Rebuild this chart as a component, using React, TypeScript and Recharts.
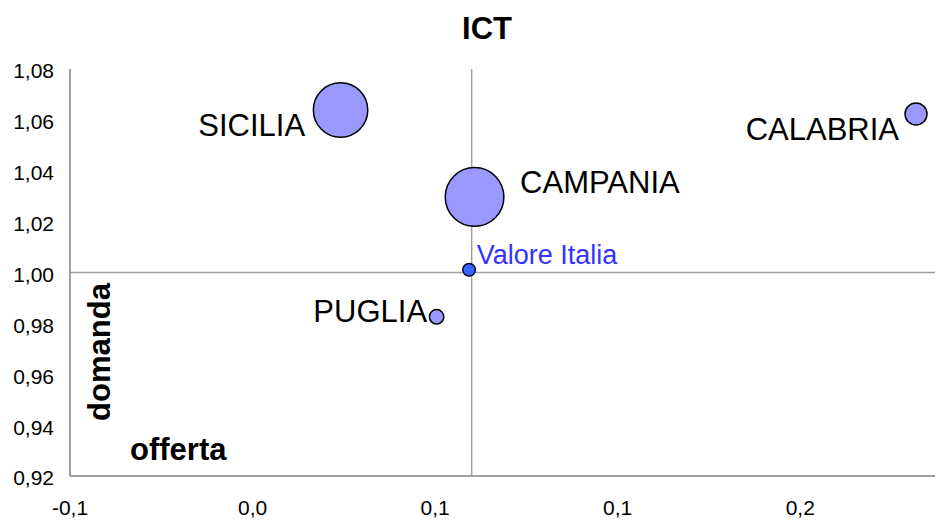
import React from "react";
import {
  ScatterChart,
  Scatter,
  XAxis,
  YAxis,
  ZAxis,
  ReferenceLine,
  ReferenceArea,
} from "recharts";

// ---- data ----
const regions = ["SICILIA", "CAMPANIA", "CALABRIA", "PUGLIA"];
const offerta = [0.0241, 0.0608, 0.1817, 0.0504];
const domanda = [1.0639, 1.0297, 1.0623, 0.9826];
const peso = [740, 860, 121, 52];

const italiaName = ["Valore Italia"];
const italiaOfferta = [0.0593];
const italiaDomanda = [1.0011];
const italiaPeso = [40];

const refX = 0.06;
const refY = 1.0;

const xTicks = [-0.05, 0, 0.05, 0.1, 0.15];
const xTickLabels = ["-0,1", "0,0", "0,1", "0,1", "0,2"];
const yTicks = [0.92, 0.94, 0.96, 0.98, 1.0, 1.02, 1.04, 1.06, 1.08];
const yTickLabels = ["0,92", "0,94", "0,96", "0,98", "1,00", "1,02", "1,04", "1,06", "1,08"];

const regionData = regions.map((name, i) => ({
  name,
  x: offerta[i],
  y: domanda[i],
  z: peso[i],
}));
const italiaData = italiaName.map((name, i) => ({
  name,
  x: italiaOfferta[i],
  y: italiaDomanda[i],
  z: italiaPeso[i],
}));

// label placement (style config)
const labelPlacement: Record<string, { dx: number; dy: number; anchor: string }> = {
  SICILIA: { dx: -35.5, dy: 26, anchor: "end" },
  CAMPANIA: { dx: 45.5, dy: -4, anchor: "start" },
  CALABRIA: { dx: -17, dy: 26, anchor: "end" },
  PUGLIA: { dx: -9.5, dy: 5, anchor: "end" },
  "Valore Italia": { dx: 7.7, dy: -6, anchor: "start" },
};

const FONT = "'Liberation Sans', Arial, sans-serif";

const makeShape = (fill: string, stroke: string, textColor: string, fontSize: number) => (props: any) => {
  const { cx, cy, size, width, payload } = props;
  const r = width ? width / 2 : Math.sqrt((size || 0) / Math.PI);
  const p = labelPlacement[payload.name] || { dx: 0, dy: 0, anchor: "middle" };
  return (
    <g>
      <circle cx={cx} cy={cy} r={r} fill={fill} stroke={stroke} strokeWidth={1.5} />
      <text
        x={cx + p.dx}
        y={cy + p.dy}
        textAnchor={p.anchor as any}
        fontFamily={FONT}
        fontSize={fontSize}
        fill={textColor}
      >
        {payload.name}
      </text>
    </g>
  );
};

const regionShape = makeShape("#9999FF", "#000000", "#000000", 31);
const italiaShape = makeShape("#3366FF", "#000033", "#3333FF", 27);

export default function App() {
  return (
    <div style={{ position: "absolute", left: 0, top: 0, width: 938, height: 520, background: "#fff" }}>
      <ScatterChart
        width={938}
        height={520}
        margin={{ top: 69, right: 3, bottom: 0, left: 0 }}
      >
        <XAxis
          type="number"
          dataKey="x"
          domain={[-0.05, 0.1869]}
          ticks={xTicks}
          allowDataOverflow
          tickFormatter={(v: number) => {
            const i = xTicks.findIndex((t) => Math.abs(t - v) < 1e-9);
            return i >= 0 ? xTickLabels[i] : "";
          }}
          height={44}
          tickSize={0}
          tickMargin={24}
          axisLine={{ stroke: "#808080", strokeWidth: 1.5 }}
          tick={{ fill: "#000", fontSize: 21, fontFamily: FONT }}
        />
        <YAxis
          type="number"
          dataKey="y"
          domain={[0.92, 1.08]}
          ticks={yTicks}
          allowDataOverflow
          tickFormatter={(v: number) => {
            const i = yTicks.findIndex((t) => Math.abs(t - v) < 1e-9);
            return i >= 0 ? yTickLabels[i] : "";
          }}
          width={70}
          tickSize={0}
          tickMargin={16}
          axisLine={{ stroke: "#808080", strokeWidth: 1.5 }}
          tick={{ fill: "#000", fontSize: 21, fontFamily: FONT, dy: 2 }}
        />
        <ZAxis type="number" dataKey="z" domain={[0, 1000]} range={[0, 3141.6]} />
        <ReferenceArea fill="none" stroke="#999999" strokeWidth={1} fillOpacity={0} />
        <ReferenceLine x={refX} stroke="#A0A0A0" strokeWidth={1.5} />
        <ReferenceLine y={refY} stroke="#A0A0A0" strokeWidth={1.5} />
        <Scatter data={regionData} shape={regionShape} isAnimationActive={false} />
        <Scatter data={italiaData} shape={italiaShape} isAnimationActive={false} />
      </ScatterChart>
      <svg
        width={938}
        height={520}
        style={{ position: "absolute", left: 0, top: 0, pointerEvents: "none" }}
      >
        <text x={487} y={39} textAnchor="middle" fontFamily={FONT} fontWeight="bold" fontSize={31} fill="#000">
          ICT
        </text>
        <text
          x={110}
          y={352}
          textAnchor="middle"
          fontFamily={FONT}
          fontWeight="bold"
          fontSize={31}
          fill="#000"
          transform="rotate(-90 110 352)"
        >
          domanda
        </text>
        <text x={130} y={460} textAnchor="start" fontFamily={FONT} fontWeight="bold" fontSize={31} fill="#000">
          offerta
        </text>
      </svg>
    </div>
  );
}
